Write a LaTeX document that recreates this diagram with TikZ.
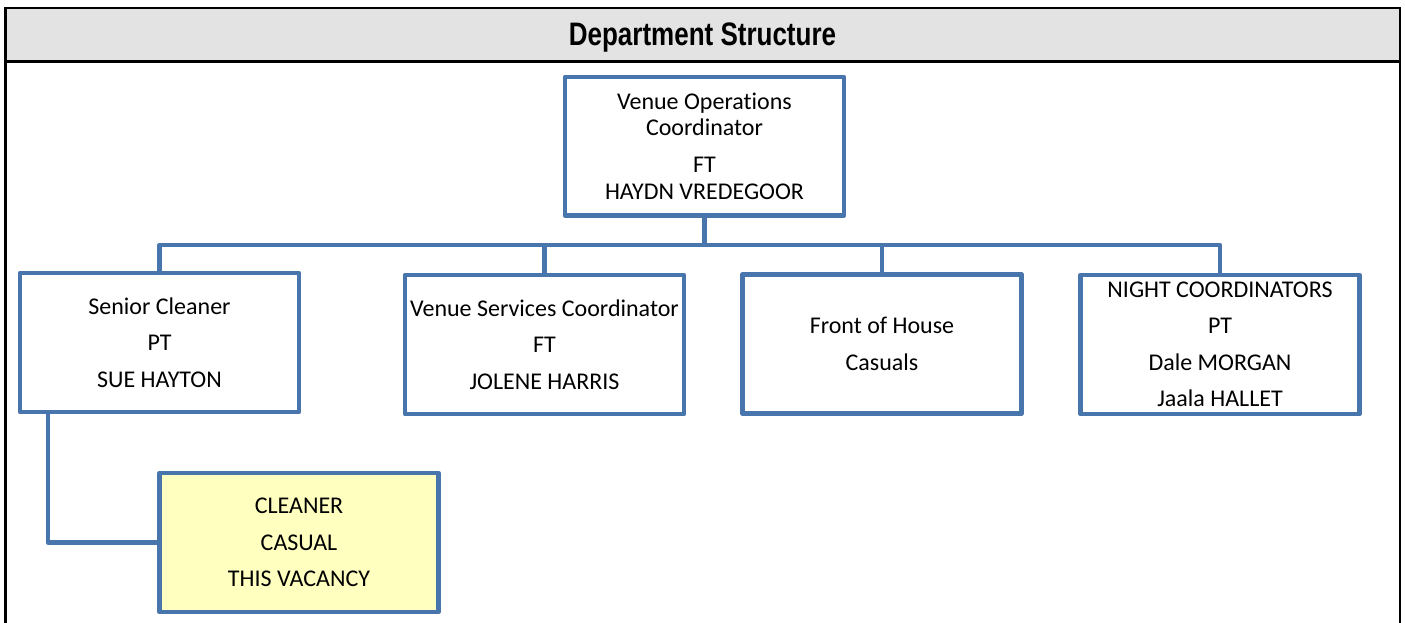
\documentclass[tikz,border=0pt]{standalone}
\usepackage{fontspec}
\setmainfont[Ligatures=NoCommon]{Carlito}
\newfontfamily\titlefont[FakeStretch=0.8]{Liberation Sans}
\definecolor{boxblue}{RGB}{72,117,172}
\definecolor{headgray}{RGB}{227,227,227}
\definecolor{vacancy}{RGB}{255,255,192}
\tikzset{
  orgbox/.style={draw=boxblue, line width=4.6pt, line join=round, fill=white,
    minimum width=279pt, minimum height=139pt, inner sep=0pt, align=center,
    font=\fontsize{24}{36.5}\selectfont},
  conn/.style={draw=boxblue, line width=4.6pt, line join=round},
  frame/.style={draw=black, line width=2.6pt},
}
\begin{document}
\begin{tikzpicture}[x=1pt,y=-1pt]
\useasboundingbox (0,0) rectangle (1405,623);
% frame and header
\fill[headgray] (5.5,8) rectangle (1400,61.7);
\draw[frame] (5.5,640) -- (5.5,8) -- (1400,8) -- (1400,640);
\draw[frame] (5.5,61.7) -- (1400,61.7);
\node[font=\titlefont\bfseries\fontsize{32.5}{34}\selectfont, inner sep=0pt, anchor=base] (title) at (702.5,46) {Department Structure};
% boxes
\node[orgbox, minimum height=138.5pt, font=\fontsize{24}{26.5}\selectfont] (top) at (704.5,146.3)
  {Venue Operations\\Coordinator\\[10.5pt]FT\\HAYDN VREDEGOOR};
\node[orgbox] (sen) at (159.5,342.5) {Senior Cleaner\\PT\\SUE HAYTON};
\node[orgbox] (vsc) at (544.5,344.5) {Venue Services Coordinator\\FT\\JOLENE HARRIS};
\node[orgbox] (foh) at (882,344) {Front of House\\Casuals};
\node[orgbox] (night) at (1220,344.5) {NIGHT COORDINATORS\\PT\\Dale MORGAN\\Jaala HALLET};
\node[orgbox, fill=vacancy] (cln) at (299,542.5) {CLEANER\\CASUAL\\THIS VACANCY};
% connectors
\coordinate (bus) at (0,245);
\draw[conn] (top.south) -- (top.south |- bus) -| (sen.north);
\draw[conn] (top.south |- bus) -| (vsc.north);
\draw[conn] (top.south |- bus) -| (foh.north);
\draw[conn] (top.south |- bus) -| (night.north);
\draw[conn] ([xshift=-111.5pt]sen.south) |- (cln.west);
\end{tikzpicture}
\end{document}
